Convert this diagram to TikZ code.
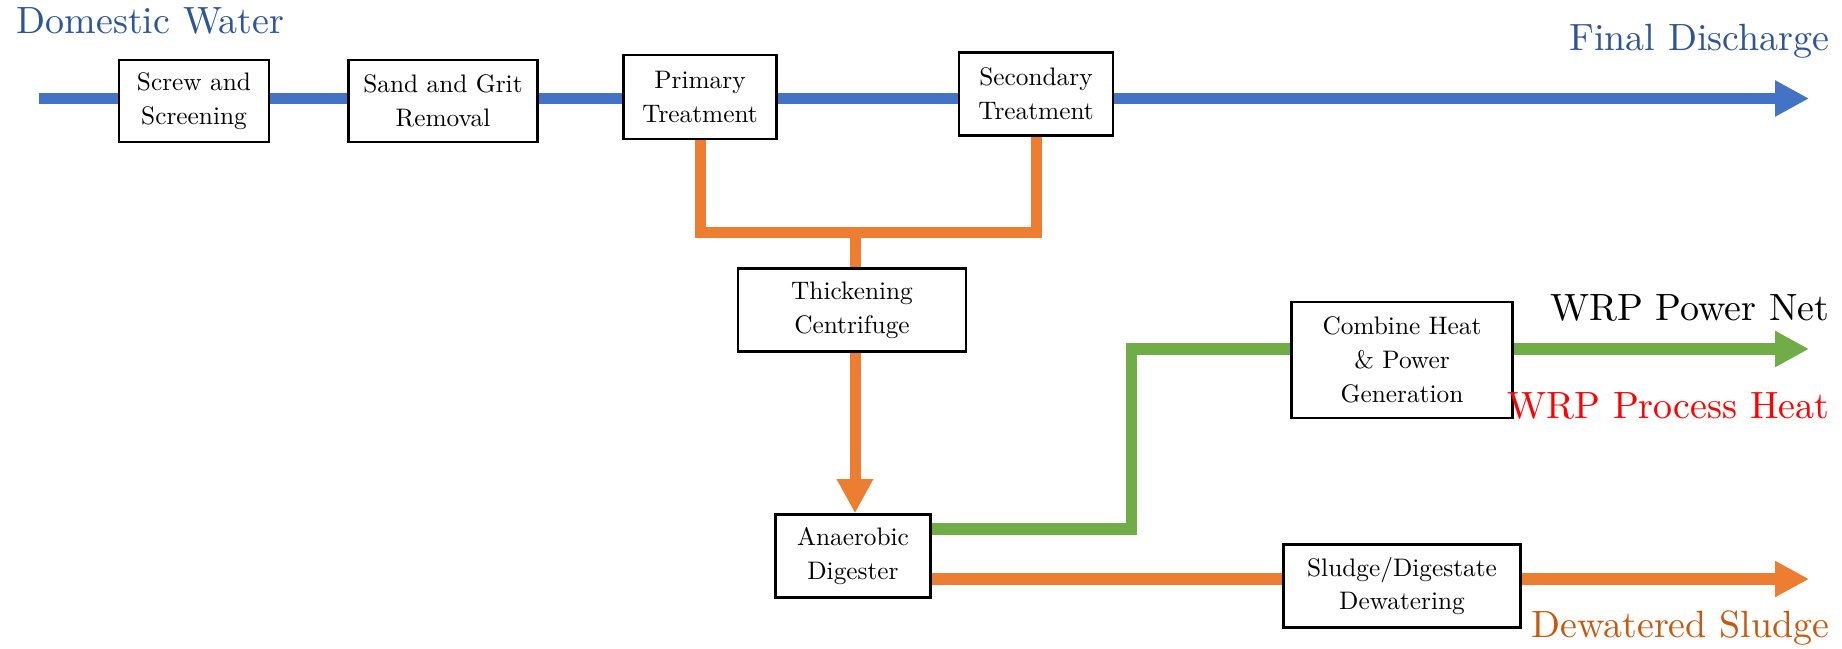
\documentclass[tikz,border=0pt]{standalone}
\usepackage{fontspec}
\setmainfont{lmroman10}[Extension=.otf,UprightFont=*-regular,BoldFont=*-bold,ItalicFont=*-italic,BoldItalicFont=*-bolditalic]
\usetikzlibrary{arrows.meta}
\definecolor{eau}{HTML}{4472C4}
\definecolor{eautxt}{HTML}{2F5597}
\definecolor{boue}{HTML}{ED7D31}
\definecolor{bouetxt}{HTML}{C55A11}
\definecolor{biogaz}{HTML}{70AD47}
\begin{document}
\begin{tikzpicture}[x=0.01cm,y=-0.01cm,>={Triangle[length=0.34cm,width=0.34cm]}]
	\tikzset{
		boite/.style={draw,line width=0.7pt,fill=white,align=center,inner sep=0pt,
			font=\fontsize{7.2}{9.6}\selectfont},
		flux/.style={line width=0.11cm},
		etiq/.style={inner sep=0pt,font=\fontsize{10.8}{13}\selectfont},
	}
	\useasboundingbox (0,0) rectangle (1842,649);

	% boites
	\node[boite,minimum width=1.50cm,minimum height=0.82cm] (screw) at (194,101) {Screw and\\Screening};
	\node[boite,minimum width=1.89cm,minimum height=0.82cm] (sand) at (443,101) {Sand and Grit\\Removal};
	\node[boite,minimum width=1.53cm,minimum height=0.84cm] (prim) at (700,97) {Primary\\Treatment};
	\node[boite,minimum width=1.54cm,minimum height=0.83cm] (sec) at (1036,94) {Secondary\\Treatment};
	\node[boite,minimum width=2.28cm,minimum height=0.83cm] (thick) at (852,310) {Thickening\\Centrifuge};
	\node[boite,minimum width=1.55cm,minimum height=0.83cm] (digest) at (853,556) {Anaerobic\\Digester};
	\node[boite,minimum width=2.21cm,minimum height=1.16cm] (chp) at (1402,360) {Combine Heat\\\& Power\\Generation};
	\node[boite,minimum width=2.37cm,minimum height=0.83cm] (dewat) at (1402,586) {Sludge/Digestate\\Dewatering};

	% points libres
	\coordinate (entree) at (39,98.5);
	\coordinate (sortie) at (1809,98.5);
	\coordinate (jonction) at (855,233);
	\coordinate (coude) at (1131,349);
	\coordinate (pnet) at (1809,349);
	\coordinate (gateau) at (1809,579);

	% eau
	\draw[flux,eau] (entree) -- (screw.west |- entree);
	\draw[flux,eau] (screw.east |- entree) -- (sand.west |- entree);
	\draw[flux,eau] (sand.east |- entree) -- (prim.west |- entree);
	\draw[flux,eau] (prim.east |- entree) -- (sec.west |- entree);
	\draw[flux,eau,->] (sec.east |- entree) -- (sortie);

	% boues
	\draw[flux,boue] (prim.south) |- (jonction) -| (sec.south);
	\draw[flux,boue] (jonction) -- (jonction |- thick.north);
	\draw[flux,boue,->] (jonction |- thick.south) -- (jonction |- digest.north);
	\draw[flux,boue] (digest.east |- gateau) -- (dewat.west |- gateau);
	\draw[flux,boue,->] (dewat.east |- gateau) -- (gateau);

	% biogaz
	\draw[flux,biogaz] (digest.east |- 0,529) -| (coude) -- (chp.west |- coude);
	\draw[flux,biogaz,->] (chp.east |- pnet) -- (pnet);

	% textes
	\node[etiq,anchor=west,text=eautxt] (dom) at (16,21) {Domestic Water};
	\node[etiq,anchor=east,text=eautxt] (fin) at (1830,41) {Final Discharge};
	\node[etiq,anchor=east] (wpn) at (1830,308) {WRP Power Net};
	\node[etiq,anchor=east,text=red] (wph) at (1830,406) {WRP Process Heat};
	\node[etiq,anchor=east,text=bouetxt] (dws) at (1830,628) {Dewatered Sludge};

\end{tikzpicture}
\end{document}
